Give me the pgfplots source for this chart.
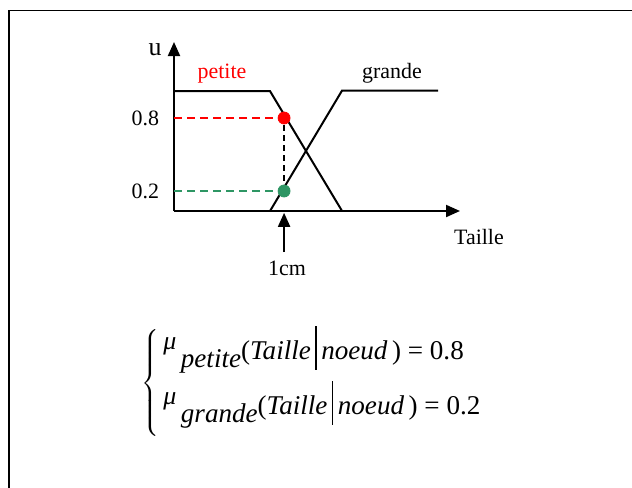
\documentclass[border=0pt]{standalone}
\usepackage{pgfplots}
\pgfplotsset{compat=1.18}
\usepackage{fontspec}
\setmainfont{Liberation Serif}
\usetikzlibrary{arrows.meta}
\definecolor{ptred}{RGB}{255,0,0}
\definecolor{ptgreen}{RGB}{46,150,100}
\newcommand{\lab}{\fontsize{11}{13}\selectfont}
\newcommand{\eqf}{\fontsize{13.6}{16}\selectfont}
\newcommand{\mufn}[1]{\raisebox{5bp}{\fontsize{13}{15}\selectfont\textit{μ}}\,\raisebox{-4bp}{\textit{#1}}}
\newcommand{\condbar}{\,\rule[-5bp]{0.7bp}{22bp}\,}

\begin{document}
\begin{tikzpicture}
\useasboundingbox (0,0) rectangle (316bp,-244bp);
% frame and labels, in pixel units of the reference
\begin{scope}[x=0.5bp,y=-0.5bp]
  \draw[line width=0.8bp] (9,490) -- (9,10.5) -- (634,10.5);
  \node[font=\fontsize{13}{15}\selectfont] at (155,50) {u};
  \node[font=\lab, text=ptred] at (222,74) {petite};
  \node[font=\lab] at (392,73) {grande};
  \node[font=\lab] at (479,237) {Taille};
  \node[font=\lab] at (287,268) {1cm};
  % equations
  \node[anchor=east, inner sep=0pt] at (160,383)
    {\nulldelimiterspace=0pt$\left\{\vcenter{\hbox{\rule{0pt}{57bp}}}\right.$};
  \node[anchor=base west, inner sep=0pt, font=\eqf] at (163,360)
    {\mufn{petite}(\textit{Taille}\condbar\textit{noeud}\,) = 0.8};
  \node[anchor=base west, inner sep=0pt, font=\eqf] at (163,415)
    {\mufn{grande}(\textit{Taille}\condbar\textit{noeud}\,) = 0.2};
\end{scope}

\begin{axis}[
    at={(87bp,-105.5bp)}, anchor=south west,
    scale only axis,
    width=143bp, height=84.5bp,
    xmin=0, xmax=3.97,
    ymin=0, ymax=1.41,
    axis lines=left,
    axis line style={line width=1bp, -{Triangle[length=7bp,width=6bp]}},
    xtick=\empty,
    ytick={0.167,0.776},
    yticklabels={0.2,0.8},
    major tick length=0pt,
    yticklabel style={font=\lab, xshift=-4bp},
    clip=false
]

% petite
\addplot[black, line width=1bp, no markers] coordinates {
    (0,1) (1.333,1) (2.333,0)
};
% grande
\addplot[black, line width=1bp, no markers] coordinates {
    (1.333,0) (2.333,1.005) (3.667,1.005)
};

% projections
\addplot[draw=ptred, line width=1bp, dash pattern=on 4bp off 2.5bp, no markers] coordinates {
    (0,0.776) (1.528,0.776)
};
\addplot[draw=ptgreen, line width=1bp, dash pattern=on 4bp off 2.5bp, no markers] coordinates {
    (0,0.167) (1.528,0.167)
};
\addplot[draw=black, line width=0.8bp, dash pattern=on 3bp off 2bp, no markers] coordinates {
    (1.528,0.167) (1.528,0.776)
};

% points
\addplot[only marks, mark=*, mark size=3bp, color=ptred, mark options={draw=ptred, fill=ptred}] coordinates {
    (1.528,0.776)
};
\addplot[only marks, mark=*, mark size=3bp, color=ptgreen, mark options={draw=ptgreen, fill=ptgreen}] coordinates {
    (1.528,0.167)
};

% 1cm arrow
\draw[line width=1bp, -{Triangle[length=7bp,width=6bp]}] (axis cs:1.528,-0.343) -- (axis cs:1.528,-0.015);

\end{axis}
\end{tikzpicture}
\end{document}
